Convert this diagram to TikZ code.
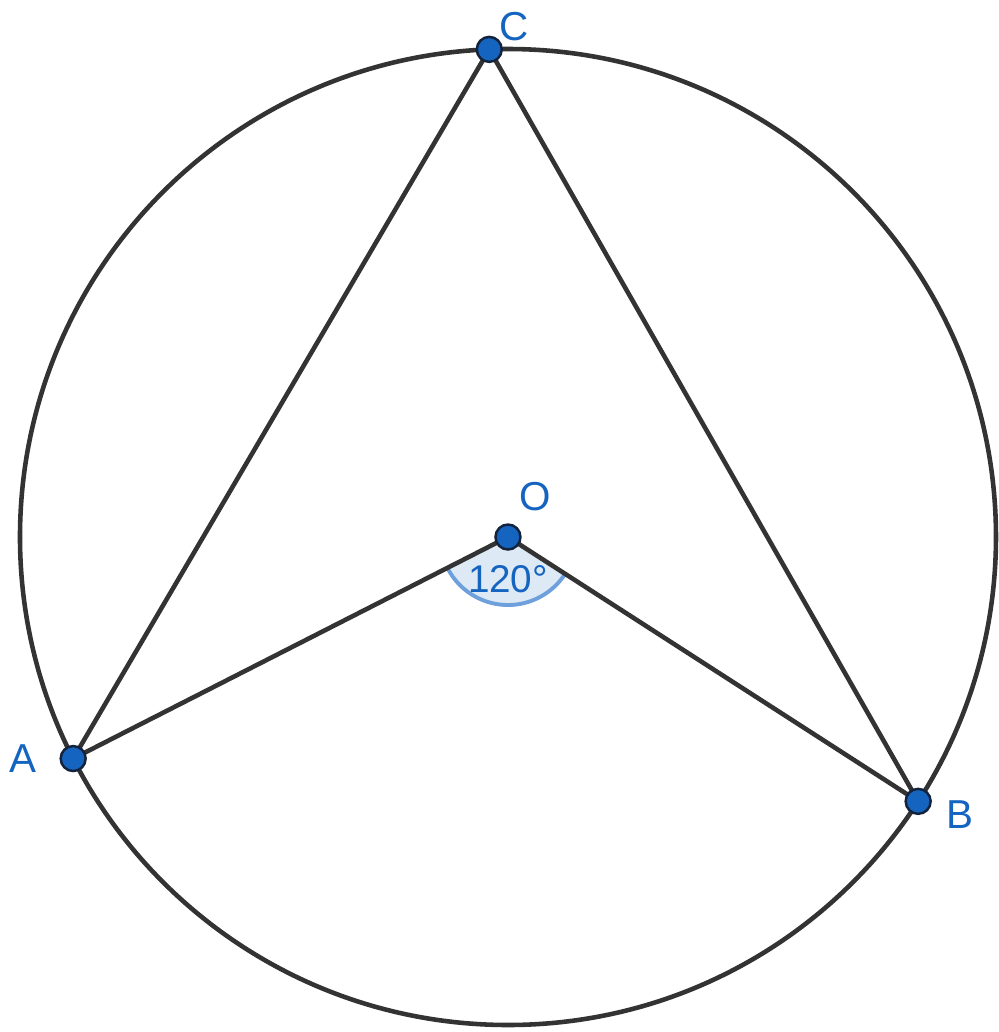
\documentclass[tikz,border=0pt]{standalone}
\usepackage{fontspec}
\setmainfont{Liberation Sans}
\usetikzlibrary{positioning,calc}
\definecolor{ptblue}{RGB}{21,101,192}
\definecolor{ptdraw}{RGB}{20,35,60}
\definecolor{linegray}{RGB}{51,51,51}
\definecolor{anglefill}{RGB}{222,233,246}
\definecolor{angledraw}{RGB}{110,160,220}

\begin{document}
\begin{tikzpicture}[every node/.style={font=\fontsize{11.5}{13}\selectfont},
    seg/.style={draw=linegray,line width=1.3pt},
    pt/.style={circle,draw=ptdraw,fill=ptblue,line width=0.7pt,inner sep=0pt,minimum size=0.25cm},
    lbl/.style={text=ptblue,inner sep=0pt}]
    \useasboundingbox (-5.08,-4.95) rectangle (4.91,5.37);
    \coordinate (O) at (0,0);
    \coordinate (A) at (207:4.88);
    \coordinate (B) at (327.2:4.88);
    \coordinate (C) at (92.2:4.88);
    % circle and angle mark
    \draw[seg] (O) circle (4.88);
    \fill[anglefill] (O) -- (207:0.68) arc (207:327.2:0.68) -- cycle;
    \draw[angledraw,line width=1.1pt] (207:0.68) arc (207:327.2:0.68);
    \node[lbl,font=\fontsize{11}{12}\selectfont] (ang) at (0,-0.42) {120°};
    % sides
    \draw[seg] (A)--(C);
    \draw[seg] (C)--(B);
    \draw[seg] (A)--(O);
    \draw[seg] (O)--(B);
    % points
    \node[pt] (a) at (A) {};
    \node[pt] (b) at (B) {};
    \node[pt] (c) at (C) {};
    \node[pt] (o) at (O) {};
    \node[lbl,xshift=-0.5cm] (la) at (A) {A};
    \node[lbl,xshift=0.42cm,yshift=-0.13cm] (lb) at (B) {B};
    \node[lbl,xshift=0.25cm,yshift=0.23cm] (lc) at (C) {C};
    \node[lbl,xshift=0.27cm,yshift=0.40cm] (lo) at (O) {O};
\end{tikzpicture}
\end{document}
